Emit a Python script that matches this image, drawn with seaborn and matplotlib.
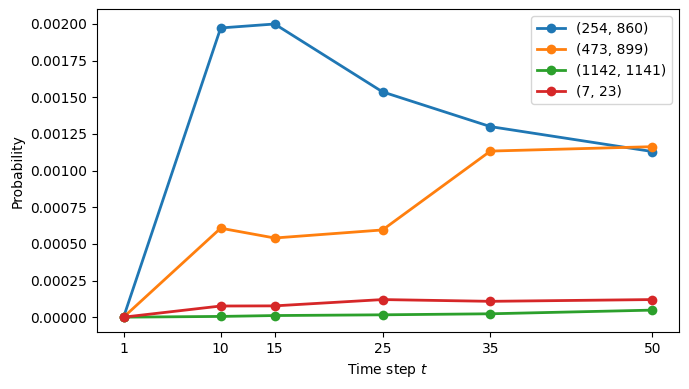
import matplotlib
matplotlib.use("Agg")
import matplotlib.pyplot as plt
import pandas as pd
import seaborn as sns

# time steps and probabilities per pair
steps = [1, 10, 15, 25, 35, 50]
pairs = ["(254, 860)", "(473, 899)", "(1142, 1141)", "(7, 23)"]
p_254_860 = [0.0, 0.001973, 0.002000, 0.001537, 0.001300, 0.001130]
p_473_899 = [0.0, 0.000607, 0.000540, 0.000595, 0.001133, 0.001163]
p_1142_1141 = [0.0, 0.000005, 0.000011, 0.000016, 0.000023, 0.000048]
p_7_23 = [0.0, 0.000076, 0.000077, 0.000120, 0.000108, 0.000120]

series = [p_254_860, p_473_899, p_1142_1141, p_7_23]
rows = []
for name, vals in zip(pairs, series):
    for t, v in zip(steps, vals):
        rows.append({"step": t, "prob": v, "pair": name})
df = pd.DataFrame(rows)

fig, ax = plt.subplots(figsize=(6.89, 3.89), dpi=100)
sns.lineplot(
    data=df, x="step", y="prob", hue="pair", hue_order=pairs,
    marker="o", markersize=7, markeredgewidth=0, linewidth=2,
    palette=["#1f77b4", "#ff7f0e", "#2ca02c", "#d62728"], ax=ax,
)
ax.set_xticks(steps)
ax.set_xlabel("Time step $t$")
ax.set_ylabel("Probability")
ax.legend(loc="upper right")
fig.subplots_adjust(left=0.141, right=0.985, top=0.976, bottom=0.147)
fig.savefig("out.png", dpi=100)
